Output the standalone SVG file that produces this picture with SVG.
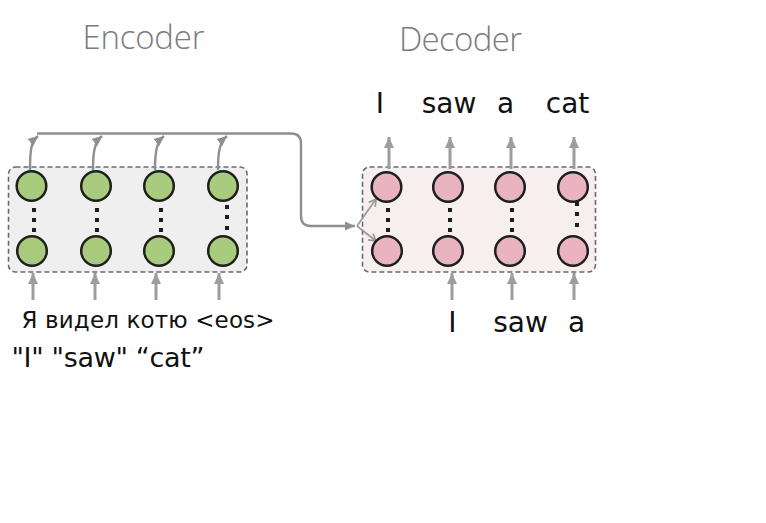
<svg xmlns="http://www.w3.org/2000/svg" width="766" height="523" viewBox="0 0 766 523">
<defs>
<style>
.title{font-family:"Open Sans","Liberation Sans",sans-serif;font-weight:300;font-size:33px;fill:#7c7c7c}
.lbl{font-family:"DejaVu Sans","Noto Sans",sans-serif;fill:#111}
.box{stroke:#6a6a6a;stroke-width:1.6;stroke-dasharray:5 3}
.enc{fill:#a8cb7d;stroke:#1e1e1e;stroke-width:2.5}
.dec{fill:#e9b3c0;stroke:#1e1e1e;stroke-width:2.5}
.dot{fill:#1e1e1e}
.arr{stroke:#9d9d9d;stroke-width:3;fill:none}
.con{stroke:#8f8f8f;stroke-width:2.4;fill:none}
.thin{stroke:#9a9a9a;stroke-width:1.7;fill:none}
</style>
<marker id="ah" markerUnits="userSpaceOnUse" markerWidth="12" markerHeight="11" refX="11" refY="5.5" orient="auto">
<path d="M0,0.5 L11,5.5 L0,10.5 z" fill="#9d9d9d"/>
</marker>
<marker id="ah2" markerUnits="userSpaceOnUse" markerWidth="11" markerHeight="10" refX="10" refY="5" orient="auto">
<path d="M0,0.5 L10,5 L0,9.5 z" fill="#8f8f8f"/>
</marker>
<marker id="av" markerUnits="userSpaceOnUse" markerWidth="10" markerHeight="10" refX="8" refY="5" orient="auto">
<path d="M1,1 L8,5 L1,9" fill="none" stroke="#9a9a9a" stroke-width="1.7"/>
</marker>
</defs>
<rect width="766" height="523" fill="#ffffff"/>

<text class="title" x="82.5" y="49" textLength="122">Encoder</text>
<text class="title" x="399" y="51" textLength="123">Decoder</text>

<g id="encoder-box">
<rect class="box" x="8.5" y="167" width="238.5" height="105" rx="7" fill="#efefef"/>
</g>
<g id="decoder-box">
<rect class="box" x="362.5" y="167" width="233" height="105" rx="7" fill="#f7efef"/>
</g>

<g id="connectors">
<line class="arr" x1="33" y1="300" x2="33" y2="273" marker-end="url(#ah)"/>
<line class="arr" x1="95" y1="300" x2="95" y2="273" marker-end="url(#ah)"/>
<line class="arr" x1="156" y1="300" x2="156" y2="273" marker-end="url(#ah)"/>
<line class="arr" x1="219" y1="300" x2="219" y2="273" marker-end="url(#ah)"/>
<path class="con" d="M30,170 C30,150 31,142 38,136" marker-end="url(#ah2)"/>
<path class="con" d="M93,170 C93,150 95,142 102,136" marker-end="url(#ah2)"/>
<path class="con" d="M155,170 C155,150 157,142 164,136" marker-end="url(#ah2)"/>
<path class="con" d="M218,170 C218,150 220,142 227,136" marker-end="url(#ah2)"/>
<path class="con" d="M37,133.5 H291 Q301,133.5 301,143.5 V216 Q301,226 311,226 H355" marker-end="url(#ah2)"/>
<path class="thin" d="M357,226 L376,199" marker-end="url(#av)"/>
<path class="thin" d="M357,226 L376,241" marker-end="url(#av)"/>
<line class="arr" x1="389" y1="169" x2="389" y2="137" marker-end="url(#ah)"/>
<line class="arr" x1="450" y1="169" x2="450" y2="137" marker-end="url(#ah)"/>
<line class="arr" x1="511" y1="169" x2="511" y2="137" marker-end="url(#ah)"/>
<line class="arr" x1="574" y1="169" x2="574" y2="137" marker-end="url(#ah)"/>
<line class="arr" x1="452" y1="300" x2="452" y2="273" marker-end="url(#ah)"/>
<line class="arr" x1="512" y1="300" x2="512" y2="273" marker-end="url(#ah)"/>
<line class="arr" x1="574" y1="300" x2="574" y2="273" marker-end="url(#ah)"/>
</g>

<g id="enc-col-1">
<circle class="enc" cx="31.5" cy="186" r="14.8"/>
<rect class="dot" x="32" y="208" width="4" height="4"/><rect class="dot" x="32" y="218" width="4" height="4"/><rect class="dot" x="32" y="228" width="4" height="4"/>
<circle class="enc" cx="32" cy="251" r="14.8"/>
</g>
<g id="enc-col-2">
<circle class="enc" cx="96" cy="186" r="14.8"/>
<rect class="dot" x="95" y="208" width="4" height="4"/><rect class="dot" x="95" y="218" width="4" height="4"/><rect class="dot" x="95" y="228" width="4" height="4"/>
<circle class="enc" cx="96" cy="251" r="14.8"/>
</g>
<g id="enc-col-3">
<circle class="enc" cx="159" cy="186" r="14.8"/>
<rect class="dot" x="159" y="208" width="4" height="4"/><rect class="dot" x="159" y="218" width="4" height="4"/><rect class="dot" x="159" y="228" width="4" height="4"/>
<circle class="enc" cx="159" cy="251" r="14.8"/>
</g>
<g id="enc-col-4">
<circle class="enc" cx="223" cy="186" r="14.8"/>
<rect class="dot" x="225" y="205" width="4" height="4"/><rect class="dot" x="225" y="215" width="4" height="4"/><rect class="dot" x="225" y="226" width="4" height="4"/>
<circle class="enc" cx="223" cy="251" r="14.8"/>
</g>

<g id="dec-col-1">
<circle class="dec" cx="386.5" cy="187" r="14.8"/>
<rect class="dot" x="386" y="208" width="4" height="4"/><rect class="dot" x="386" y="218" width="4" height="4"/><rect class="dot" x="386" y="228" width="4" height="4"/>
<circle class="dec" cx="387" cy="251" r="14.8"/>
</g>
<g id="dec-col-2">
<circle class="dec" cx="448" cy="187" r="14.8"/>
<rect class="dot" x="448" y="208" width="4" height="4"/><rect class="dot" x="448" y="218" width="4" height="4"/><rect class="dot" x="448" y="228" width="4" height="4"/>
<circle class="dec" cx="448" cy="251" r="14.8"/>
</g>
<g id="dec-col-3">
<circle class="dec" cx="510" cy="187" r="14.8"/>
<rect class="dot" x="510" y="208" width="4" height="4"/><rect class="dot" x="510" y="218" width="4" height="4"/><rect class="dot" x="510" y="228" width="4" height="4"/>
<circle class="dec" cx="510" cy="251" r="14.8"/>
</g>
<g id="dec-col-4">
<circle class="dec" cx="573" cy="187" r="14.8"/>
<rect class="dot" x="575" y="202" width="4" height="4"/><rect class="dot" x="575" y="212" width="4" height="4"/><rect class="dot" x="575" y="223" width="4" height="4"/>
<circle class="dec" cx="573" cy="251" r="14.8"/>
</g>

<g id="labels">
<text class="lbl" font-size="28" x="380" y="113" text-anchor="middle">I</text>
<text class="lbl" font-size="28" x="449" y="113" text-anchor="middle">saw</text>
<text class="lbl" font-size="28" x="505.5" y="113" text-anchor="middle">a</text>
<text class="lbl" font-size="28" x="567.5" y="113" text-anchor="middle">cat</text>
<text class="lbl" font-size="28" x="452.5" y="332" text-anchor="middle">I</text>
<text class="lbl" font-size="28" x="520.5" y="332" text-anchor="middle">saw</text>
<text class="lbl" font-size="28" x="576.5" y="332" text-anchor="middle">a</text>
<text class="lbl" font-size="23" x="21.5" y="328" textLength="253">Я видел котю &lt;eos&gt;</text>
<text class="lbl" font-size="27" x="11.5" y="367" textLength="193">"I" "saw" “cat”</text>
</g>
</svg>
